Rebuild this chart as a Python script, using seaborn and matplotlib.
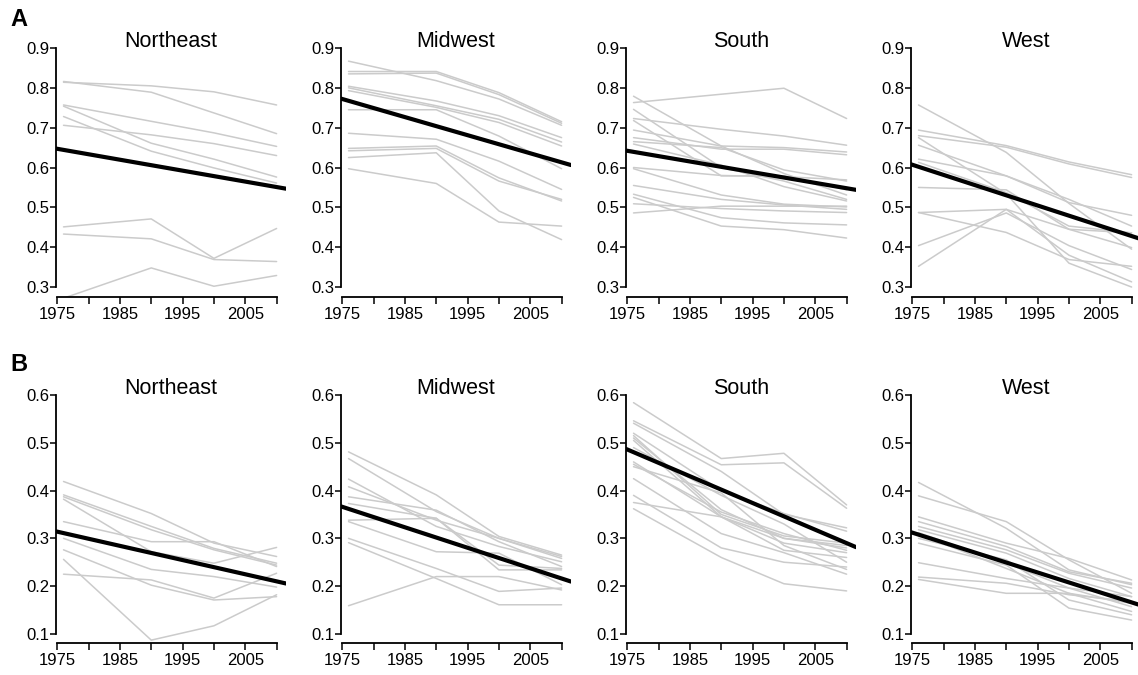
import matplotlib
matplotlib.use("Agg")
import matplotlib.pyplot as plt
import seaborn as sns
import pandas as pd

# ---------------- data ----------------
years = [1976, 1990, 2000, 2010]
regions = ["Northeast", "Midwest", "South", "West"]

# Panel A: state series (values at 1976, 1990, 2000, 2010)
A_northeast = [
    [0.814, 0.805, 0.790, 0.757],
    [0.816, 0.789, 0.737, 0.685],
    [0.757, 0.716, 0.687, 0.653],
    [0.754, 0.661, 0.621, 0.576],
    [0.728, 0.641, 0.599, 0.561],
    [0.706, 0.682, 0.660, 0.630],
    [0.451, 0.471, 0.372, 0.447],
    [0.433, 0.421, 0.369, 0.364],
    [0.272, 0.348, 0.302, 0.329],
]
A_midwest = [
    [0.867, 0.818, 0.772, 0.706],
    [0.841, 0.841, 0.788, 0.715],
    [0.835, 0.837, 0.783, 0.711],
    [0.804, 0.767, 0.730, 0.675],
    [0.800, 0.755, 0.721, 0.664],
    [0.793, 0.751, 0.713, 0.654],
    [0.745, 0.745, 0.679, 0.597],
    [0.686, 0.671, 0.616, 0.545],
    [0.648, 0.654, 0.574, 0.516],
    [0.642, 0.648, 0.566, 0.520],
    [0.625, 0.637, 0.491, 0.419],
    [0.597, 0.560, 0.463, 0.453],
]
A_south = [
    [0.763, 0.784, 0.799, 0.723],
    [0.779, 0.654, 0.585, 0.531],
    [0.746, 0.600, 0.566, 0.520],
    [0.723, 0.696, 0.679, 0.656],
    [0.718, 0.579, 0.579, 0.544],
    [0.694, 0.654, 0.650, 0.639],
    [0.675, 0.646, 0.646, 0.632],
    [0.665, 0.650, 0.594, 0.566],
    [0.659, 0.606, 0.552, 0.516],
    [0.600, 0.580, 0.577, 0.569],
    [0.597, 0.531, 0.508, 0.501],
    [0.555, 0.520, 0.506, 0.495],
    [0.533, 0.474, 0.461, 0.456],
    [0.525, 0.453, 0.444, 0.423],
    [0.509, 0.497, 0.491, 0.487],
    [0.486, 0.503, 0.503, 0.503],
]
A_west = [
    [0.757, 0.638, 0.510, 0.395],
    [0.694, 0.655, 0.614, 0.582],
    [0.680, 0.651, 0.609, 0.575],
    [0.675, 0.534, 0.360, 0.300],
    [0.656, 0.579, 0.512, 0.480],
    [0.621, 0.579, 0.520, 0.453],
    [0.613, 0.537, 0.453, 0.436],
    [0.550, 0.544, 0.445, 0.399],
    [0.487, 0.495, 0.445, 0.436],
    [0.487, 0.437, 0.369, 0.352],
    [0.404, 0.486, 0.404, 0.344],
    [0.352, 0.495, 0.380, 0.313],
]

# Panel B
B_northeast = [
    [0.419, 0.352, 0.290, 0.262],
    [0.391, 0.325, 0.279, 0.248],
    [0.387, 0.318, 0.276, 0.244],
    [0.382, 0.272, 0.248, 0.281],
    [0.335, 0.293, 0.293, 0.241],
    [0.300, 0.235, 0.220, 0.198],
    [0.276, 0.202, 0.171, 0.178],
    [0.256, 0.087, 0.117, 0.182],
    [0.225, 0.213, 0.175, 0.227],
]
B_midwest = [
    [0.481, 0.391, 0.304, 0.265],
    [0.467, 0.356, 0.300, 0.262],
    [0.424, 0.325, 0.283, 0.251],
    [0.408, 0.338, 0.300, 0.258],
    [0.387, 0.359, 0.293, 0.241],
    [0.373, 0.342, 0.244, 0.237],
    [0.338, 0.342, 0.234, 0.234],
    [0.335, 0.272, 0.269, 0.203],
    [0.300, 0.237, 0.189, 0.196],
    [0.291, 0.216, 0.161, 0.161],
    [0.159, 0.220, 0.220, 0.192],
]
B_south = [
    [0.584, 0.467, 0.478, 0.370],
    [0.546, 0.454, 0.458, 0.363],
    [0.541, 0.440, 0.350, 0.322],
    [0.520, 0.400, 0.352, 0.315],
    [0.515, 0.350, 0.305, 0.290],
    [0.510, 0.360, 0.300, 0.280],
    [0.505, 0.345, 0.290, 0.270],
    [0.490, 0.390, 0.330, 0.250],
    [0.460, 0.345, 0.300, 0.285],
    [0.455, 0.355, 0.310, 0.275],
    [0.450, 0.395, 0.285, 0.235],
    [0.425, 0.310, 0.270, 0.225],
    [0.390, 0.280, 0.250, 0.240],
    [0.375, 0.345, 0.275, 0.260],
    [0.362, 0.260, 0.205, 0.190],
]
B_west = [
    [0.417, 0.321, 0.234, 0.203],
    [0.389, 0.335, 0.255, 0.185],
    [0.345, 0.290, 0.258, 0.213],
    [0.335, 0.283, 0.230, 0.206],
    [0.325, 0.276, 0.227, 0.196],
    [0.318, 0.269, 0.216, 0.178],
    [0.312, 0.248, 0.196, 0.157],
    [0.309, 0.237, 0.185, 0.147],
    [0.300, 0.255, 0.171, 0.140],
    [0.290, 0.244, 0.154, 0.129],
    [0.249, 0.216, 0.196, 0.178],
    [0.219, 0.206, 0.182, 0.168],
    [0.214, 0.185, 0.185, 0.164],
]

# Regional trend lines: values at 1975 and 2010
trend_years = [1975, 2010]
A_trend = [[0.647, 0.551], [0.772, 0.613], [0.642, 0.548], [0.607, 0.428]]
B_trend = [[0.314, 0.210], [0.366, 0.216], [0.486, 0.290], [0.312, 0.166]]

panel_labels = ["A", "B"]
row_series = [[A_northeast, A_midwest, A_south, A_west],
              [B_northeast, B_midwest, B_south, B_west]]
row_trends = [A_trend, B_trend]
row_yticks = [[0.3, 0.4, 0.5, 0.6, 0.7, 0.8, 0.9],
              [0.1, 0.2, 0.3, 0.4, 0.5, 0.6]]
row_ylims = [(0.275, 0.9), (0.081, 0.6)]
xticks = [1975, 1980, 1985, 1990, 1995, 2000, 2005, 2010]
xticklabels = ["1975", "", "1985", "", "1995", "", "2005", ""]

# ---------------- style ----------------
sns.set_style("ticks")
plt.rcParams["font.family"] = ["Liberation Sans", "DejaVu Sans"]
plt.rcParams["text.color"] = "black"

W, H = 1138, 675
fig = plt.figure(figsize=(W / 100, H / 100), dpi=100)

lefts_px = [56, 341, 626, 911]
ax_w_px = 230
row_top_px = [48, 395]
row_bot_px = [297, 643]

for r in range(2):
    for c in range(4):
        left = lefts_px[c] / W
        bottom = 1 - row_bot_px[r] / H
        height = (row_bot_px[r] - row_top_px[r]) / H
        ax = fig.add_axes([left, bottom, ax_w_px / W, height])

        rows = []
        for i, series in enumerate(row_series[r][c]):
            for yr, v in zip(years, series):
                rows.append({"state": i, "year": yr, "value": v})
        df = pd.DataFrame(rows)
        sns.lineplot(data=df, x="year", y="value", units="state",
                     estimator=None, color="#cbcbcb", linewidth=1.1,
                     ax=ax, legend=False)

        t0, t1 = row_trends[r][c]
        ax.axline((trend_years[0], t0), (trend_years[1], t1),
                  color="black", linewidth=3.0, zorder=5)

        ax.set_xlim(1974.8, 2011.5)
        ax.set_ylim(*row_ylims[r])
        ax.set_xticks(xticks)
        ax.set_xticklabels(xticklabels)
        yt = row_yticks[r]
        ax.set_yticks(yt)
        ax.set_yticklabels([f"{v:.1f}" for v in yt])
        ax.set_xlabel("")
        ax.set_ylabel("")
        for s in ["top", "right"]:
            ax.spines[s].set_visible(False)
        ax.spines["left"].set_bounds(yt[0], yt[-1])
        ax.spines["bottom"].set_bounds(1975, 2010)
        for s in ["left", "bottom"]:
            ax.spines[s].set_linewidth(1.3)
            ax.spines[s].set_color("black")
        ax.tick_params(axis="y", length=4.3, width=1.1, pad=0.5,
                       labelsize=12, colors="black")
        ax.tick_params(axis="x", length=5, width=1.1, pad=2,
                       labelsize=12, colors="black")
        ax.set_title(regions[c], fontsize=15.5, y=1.0, pad=0.5, color="black")
        ax.patch.set_alpha(0)

fig.text(10 / W, 1 - 8 / H, "A", fontsize=17, fontweight="bold",
         va="top", ha="left", color="black")
fig.text(10 / W, 1 - 353 / H, "B", fontsize=17, fontweight="bold",
         va="top", ha="left", color="black")

fig.savefig("out.png", dpi=100)
